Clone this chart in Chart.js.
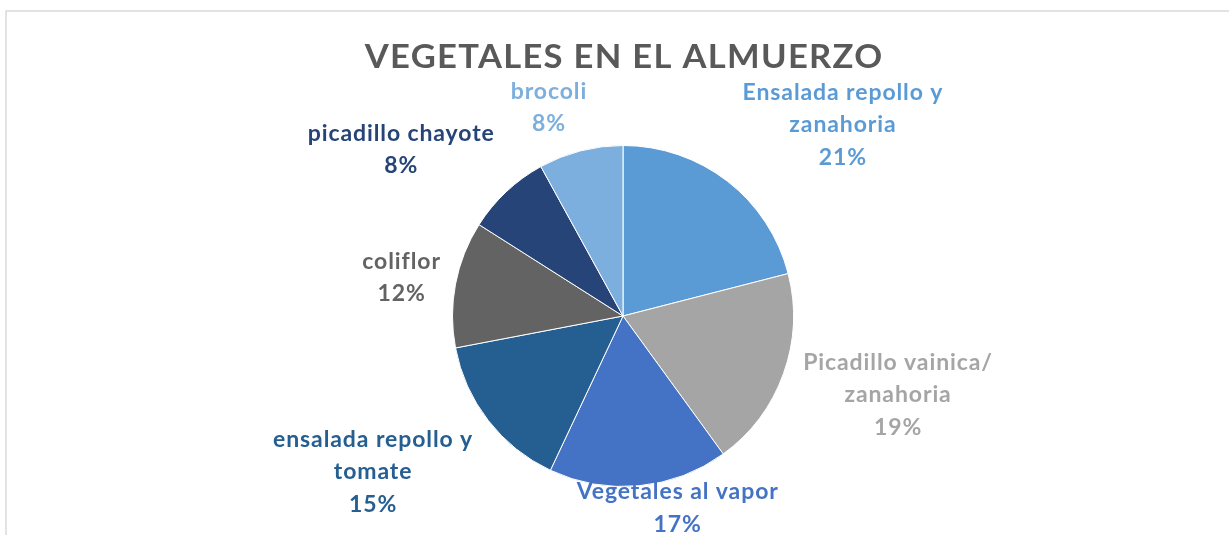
<!DOCTYPE html>
<html>
<head>
<meta charset="utf-8">
<script src="https://cdn.jsdelivr.net/npm/chart.js@4"></script>
<style>
  html, body { margin: 0; padding: 0; background: #ffffff; }
  #wrap { width: 1229px; height: 535px; position: relative; }
</style>
</head>
<body>
<div id="wrap"><canvas id="c" width="1229" height="535"></canvas></div>
<script>
// ---- data ----
const chartTitle = "VEGETALES EN EL ALMUERZO";
const categories = [
  ["Ensalada repollo y", "zanahoria"],
  ["Picadillo vainica/", "zanahoria"],
  ["Vegetales al vapor"],
  ["ensalada repollo y", "tomate"],
  ["coliflor"],
  ["picadillo chayote"],
  ["brocoli"]
];
const values = [21, 19, 17, 15, 12, 8, 8];

// ---- style ----
const sliceColors = ["#5B9BD5", "#A5A5A5", "#4472C4", "#255E91", "#636363", "#264478", "#7CAFDD"];
// label placement: nudge (px) from a point on the slice's mid-angle at 1.45 x radius
const labelNudge = [[68, -21], [42, -30], [31, -63], [-55, -21], [21, -1], [-53, 5], [-13, 22]];
const labelFont = "bold 23px Lato";
const labelSpacing = 0.9;
const labelLineGap = 32.5;
const titleSpacing = 1.2;
const titleStretch = 1.08;

function spacedText(ctx, txt, x, y, sp) {
  ctx.letterSpacing = sp + "px";
  ctx.fillText(txt, x + sp / 2, y);
  ctx.letterSpacing = "0px";
}

const decorPlugin = {
  id: "decor",
  beforeDraw(chart) {
    const ctx = chart.ctx;
    ctx.save();
    ctx.fillStyle = "#ffffff";
    ctx.fillRect(0, 0, chart.width, chart.height);
    ctx.strokeStyle = "#d9d9d9";
    ctx.lineWidth = 1.5;
    ctx.strokeRect(6, 11, chart.width + 20, chart.height + 20);
    ctx.restore();
  },
  afterDraw(chart) {
    const ctx = chart.ctx;
    // title
    ctx.save();
    ctx.font = "bold 32px Lato";
    ctx.fillStyle = "#595959";
    ctx.textAlign = "center";
    ctx.textBaseline = "alphabetic";
    ctx.translate(623.5, 68);
    ctx.scale(titleStretch, 1);
    spacedText(ctx, chartTitle, 0, 0, titleSpacing);
    ctx.restore();
    // labels
    ctx.save();
    ctx.textAlign = "center";
    ctx.textBaseline = "alphabetic";
    const meta = chart.getDatasetMeta(0);
    const total = values.reduce((a, b) => a + b, 0);
    ctx.font = labelFont;
    meta.data.forEach((arc, i) => {
      const p = arc.getProps(["x", "y", "startAngle", "endAngle", "outerRadius"], true);
      const mid = (p.startAngle + p.endAngle) / 2;
      const rr = p.outerRadius * 1.45;
      const ax = p.x + Math.cos(mid) * rr + labelNudge[i][0];
      const ay = p.y + Math.sin(mid) * rr + labelNudge[i][1];
      const lines = categories[i].concat([Math.round(values[i] / total * 100) + "%"]);
      ctx.fillStyle = sliceColors[i];
      lines.forEach((ln, k) => spacedText(ctx, ln, ax, ay + k * labelLineGap, labelSpacing));
    });
    ctx.restore();
  }
};

new Chart(document.getElementById("c"), {
  type: "pie",
  data: {
    labels: categories.map(c => c.join(" ")),
    datasets: [{
      data: values,
      backgroundColor: sliceColors,
      borderColor: "#ffffff",
      borderWidth: 1
    }]
  },
  options: {
    responsive: false,
    animation: false,
    devicePixelRatio: 1,
    layout: { padding: { left: 452, right: 435, top: 145, bottom: 48 } },
    plugins: {
      legend: { display: false },
      tooltip: { enabled: false },
      title: { display: false }
    }
  },
  plugins: [decorPlugin]
});
</script>
</body>
</html>
